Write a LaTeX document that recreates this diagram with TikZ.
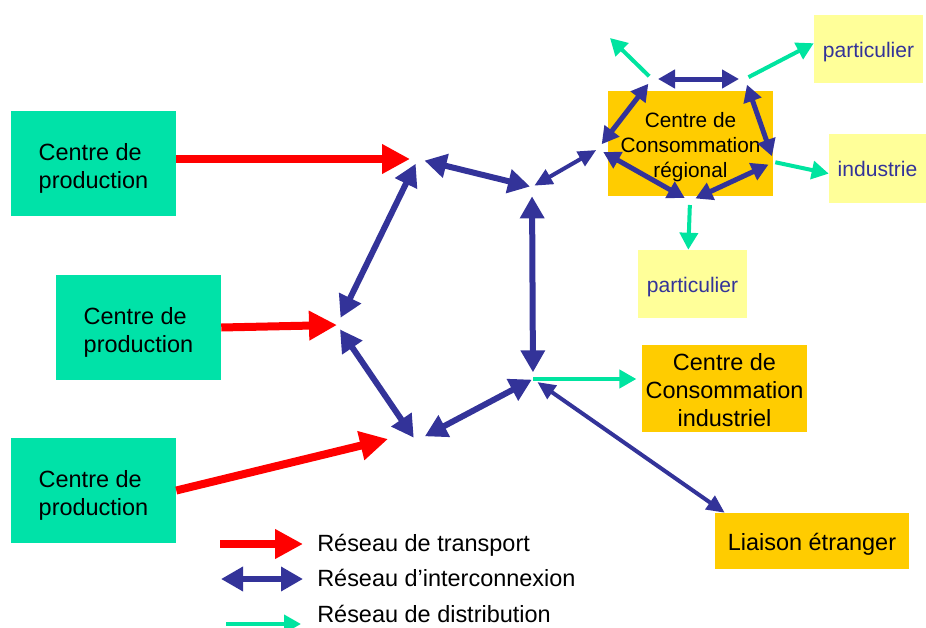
\documentclass[tikz,border=0pt]{standalone}
\usepackage{fontspec}
\setmainfont{Liberation Sans}
\usetikzlibrary{arrows.meta}
\definecolor{prodgreen}{RGB}{0,226,168}
\definecolor{distgreen}{RGB}{0,228,160}
\definecolor{inter}{RGB}{51,51,153}
\definecolor{consorange}{RGB}{255,204,0}
\definecolor{lightyel}{RGB}{255,255,153}
\newcommand{\lowerby}[1]{\rule{0pt}{#1}}
\begin{document}
\begin{tikzpicture}[x=0.75pt,y=-0.75pt,
  bigfont/.style={font=\fontsize{17.6}{21}\selectfont},
  prodbox/.style={fill=prodgreen, inner sep=0pt, minimum width=123.75pt, minimum height=78.75pt, align=left, bigfont},
  consbox/.style={fill=consorange, inner sep=0pt, align=center},
  leafbox/.style={fill=lightyel, inner sep=0pt, text=inter, font=\fontsize{15.8}{19}\selectfont},
  transport/.style={draw=red, line width=6pt, -{Triangle[length=21pt,width=21pt]}},
  interbig/.style={draw=inter, line width=4.5pt, {Triangle[length=16.5pt,width=17.5pt]}-{Triangle[length=16.5pt,width=17.5pt]}},
  interring/.style={draw=inter, line width=3.75pt, {Triangle[length=12.75pt,width=13.5pt]}-{Triangle[length=12.75pt,width=13.5pt]}, shorten <=4.5pt, shorten >=4.5pt},
  interthin/.style={draw=inter, line width=3pt, {Triangle[length=13.5pt,width=12pt]}-{Triangle[length=13.5pt,width=12pt]}},
  distrib/.style={draw=distgreen, line width=3pt, -{Triangle[length=12.75pt,width=13.5pt]}},
  legtext/.style={anchor=west, inner sep=0pt, bigfont}
]
\useasboundingbox (0,0) rectangle (926,628);

% production centres
\node[prodbox] (p1) at (93.5,163.5) {\lowerby{19.5pt}Centre de\\production};
\node[prodbox] (p2) at (138.5,327.5) {\lowerby{19.5pt}Centre de\\production};
\node[prodbox] (p3) at (93.5,490.5) {\lowerby{19.5pt}Centre de\\production};

% consumption centres
\node[consbox, minimum width=123.75pt, minimum height=78.75pt, font=\fontsize{15.6}{18.75}\selectfont] (reg) at (690.5,143.5) {\lowerby{16.4pt}Centre de\\Consommation\\régional};
\node[consbox, minimum width=123.75pt, minimum height=65.25pt, bigfont] (cci) at (724.5,388.5) {\lowerby{15.8pt}Centre de\\Consommation\\industriel};
\node[consbox, minimum width=145.5pt, minimum height=42pt, bigfont] (lia) at (812,541) {\lowerby{17.5pt}Liaison étranger};

% final customers
\node[leafbox, minimum width=81.75pt, minimum height=51pt] (part1) at (868.5,49) {\lowerby{16pt}particulier};
\node[leafbox, minimum width=72.75pt, minimum height=51.75pt] (ind) at (877.5,168.5) {industrie};
\node[leafbox, minimum width=81.75pt, minimum height=51pt] (part2) at (692.5,284) {\lowerby{16pt}particulier};

% junctions of the network
\coordinate (J1) at (418,159);
\coordinate (J2) at (532,187);
\coordinate (J3) at (337,325);
\coordinate (J4) at (416,441);
\coordinate (J5) at (533,379);
\coordinate (T3) at (388,439);
% ring round the regional centre
\coordinate (P1) at (652,79);
\coordinate (P2) at (745,79);
\coordinate (PR) at (774,162);
\coordinate (PB) at (690,201);
\coordinate (PL) at (598,149);
\coordinate (G1) at (610,38);

% transport
\draw[transport, shorten >=6pt] (p1.east |- J1) -- (J1);
\draw[transport] (p2.east) -- (J3);
\draw[transport] (p3.east) -- (T3);

% interconnection
\draw[interbig, shorten <=5pt, shorten >=1.5pt] (J1) -- (J2);
\draw[interbig, shorten <=4pt, shorten >=6pt] (J1) -- (J3);
\draw[interbig, shorten <=4pt, shorten >=3pt] (J3) -- (J4);
\draw[interbig, shorten <=7.5pt, shorten >=1pt] (J4) -- (J5);
\draw[interbig, shorten <=7pt, shorten >=5pt] (J2) -- (J5);
\draw[interthin, shorten <=2pt, shorten >=1.5pt] (J2) -- (PL);
\draw[interthin, shorten <=4pt] (J5) -- ([xshift=7.5pt]lia.north west);

\draw[interring] (P1) -- (P2);
\draw[interring] (P1) -- (PL);
\draw[interring] (PL) -- (PB);
\draw[interring] (PB) -- (PR);
\draw[interring] (P2) -- (PR);

% distribution
\draw[distrib, shorten <=3pt] (P1) -- (G1);
\draw[distrib, shorten <=3pt] (P2) -- (part1.174);
\draw[distrib, shorten <=1pt] (PR) -- (ind.186);
\draw[distrib, shorten <=3pt] (PB) -- (part2.97);
\draw[distrib, shorten >=4pt] (J5) -- (J5 -| cci.west);

% legend
\coordinate (LA1) at (220,544); \coordinate (LA2) at (303,544);
\coordinate (LB1) at (221,579); \coordinate (LB2) at (303,579);
\coordinate (LC1) at (226,624); \coordinate (LC2) at (301,624);
\draw[transport] (LA1) -- (LA2);
\draw[interbig, line width=5pt] (LB1) -- (LB2);
\draw[distrib] (LC1) -- (LC2);
\node[legtext] (lt1) at (317,545) {Réseau de transport};
\node[legtext] (lt2) at (317,578) {Réseau d’interconnexion};
\node[legtext] (lt3) at (317,614) {Réseau de distribution};
\end{tikzpicture}
\end{document}
